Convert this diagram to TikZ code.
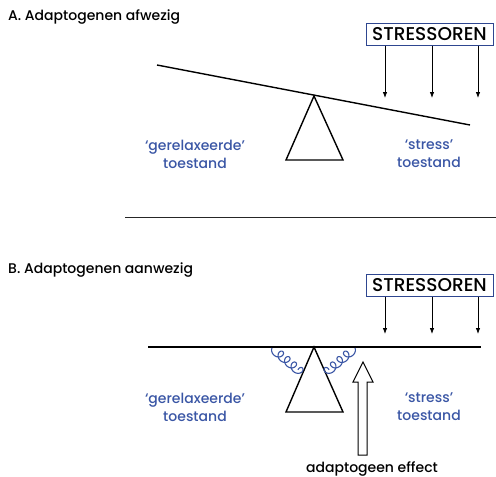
\documentclass[tikz,border=0pt]{standalone}
\usepackage{fontspec}
\setmainfont{Poppins}[UprightFont=* Medium]
\usetikzlibrary{arrows.meta}
\definecolor{lblue}{HTML}{3A56A5}
\definecolor{bblue}{HTML}{2E4690}
\begin{document}
\begin{tikzpicture}[x=1pt,y=-1pt,
 title/.style={anchor=west,font=\fontsize{14}{16}\selectfont,inner sep=0pt},
 lbl/.style={text=lblue,align=center,font=\fontsize{14}{18}\selectfont,inner sep=0pt},
 stressbox/.style={draw=bblue,line width=1pt,minimum width=127pt,minimum height=22pt,font=\fontsize{18.5}{20}\selectfont,inner sep=0pt},
 sarrow/.style={-{Latex[length=6pt,width=4.5pt]},line width=0.8pt},
 beam/.style={line width=1.4pt},
 fulcrum/.style={line width=1.4pt,line join=miter},
 spring/.style={draw=lblue,line width=1.1pt},
 hollow/.style={draw,line width=1pt,fill=white,line join=miter}
]
\useasboundingbox (0,0) rectangle (496,477);
% ---------- Panel A ----------
\node[title] (ta) at (8,17) {A. Adaptogenen afwezig};
\node[stressbox] (sa) at (429.5,34) {STRESSOREN};
\coordinate (a1) at (385,98);
\coordinate (a2) at (432,98);
\coordinate (a3) at (478,98);
\draw[sarrow] (sa.south -| a1) -- (a1);
\draw[sarrow] (sa.south -| a2) -- (a2);
\draw[sarrow] (sa.south -| a3) -- (a3);
\coordinate (bal) at (157,65);
\coordinate (bar) at (470,125);
\draw[beam] (bal) -- (bar);
\coordinate (pa) at (314,96);
\draw[fulcrum] (pa) -- (286,160) -- (343,160) -- cycle;
\node[lbl] (ga) at (195,154) {‘gerelaxeerde’\\toestand};
\node[lbl] (sta) at (429,154) {‘stress’\\toestand};
% separator
\coordinate (s1) at (125,217);
\coordinate (s2) at (496,217);
\draw[line width=1pt,draw=black!85] (s1) -- (s2);
% ---------- Panel B ----------
\node[title] (tb) at (8,270) {B. Adaptogenen aanwezig};
\node[stressbox] (sb) at (429.5,285) {STRESSOREN};
\coordinate (b1) at (385,334);
\coordinate (b2) at (432,334);
\coordinate (b3) at (478,334);
\draw[sarrow] (sb.south -| b1) -- (b1);
\draw[sarrow] (sb.south -| b2) -- (b2);
\draw[sarrow] (sb.south -| b3) -- (b3);
\coordinate (bbl) at (148,347);
\coordinate (bbr) at (481,347);
\draw[beam] (bbl) -- (bbr);
\coordinate (pb) at (314,347);
\draw[fulcrum] (pb) -- (286,412) -- (343,412) -- cycle;
% springs
\begin{scope}[shift={(272,348)},rotate=-40]
\draw[spring] plot[domain=0:8*pi,samples=280,smooth,variable=\t]
  ({1.35*\t+4.2*(1-cos(\t r))},{4.2*sin(\t r)});
\end{scope}
\begin{scope}[shift={(355,348)},rotate=-140]
\draw[spring] plot[domain=0:8*pi,samples=280,smooth,variable=\t]
  ({1.35*\t+4.2*(1-cos(\t r))},{-4.2*sin(\t r)});
\end{scope}
\draw[hollow] (363,362) -- (373,382) -- (367,382) -- (367,455) -- (358,455) -- (358,382) -- (353,382) -- cycle;
\node[lbl] (gb) at (195,407) {‘gerelaxeerde’\\toestand};
\node[lbl] (stb) at (429,407) {‘stress’\\toestand};
\node[font=\fontsize{14}{16}\selectfont,inner sep=0pt] (eff) at (372,469) {adaptogeen effect};
\end{tikzpicture}
\end{document}
